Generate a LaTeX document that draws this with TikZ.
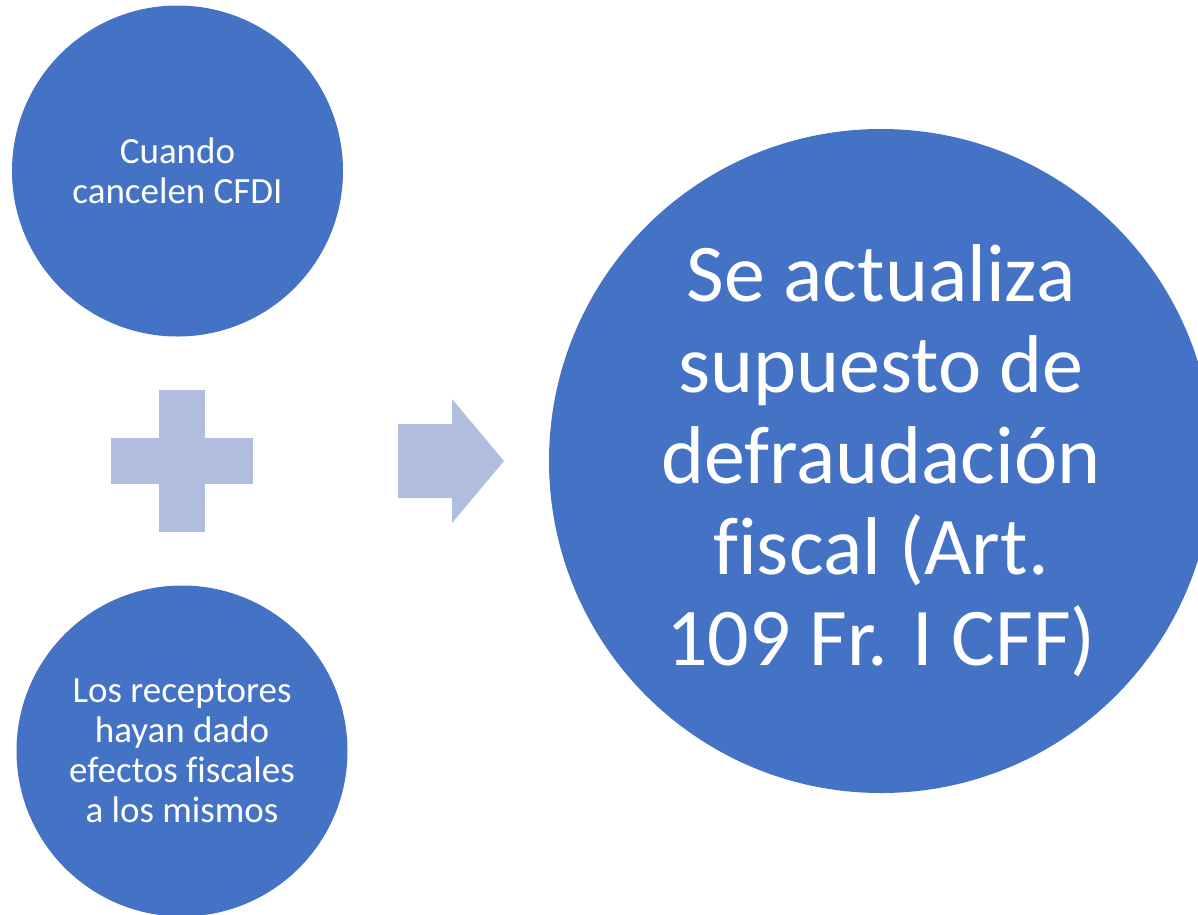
\documentclass[tikz,border=0pt]{standalone}
\usepackage{fontspec}
\setmainfont{Carlito}[Ligatures=NoCommon]
\definecolor{azul}{HTML}{4472C4}
\definecolor{azulclaro}{HTML}{B0BDDE}
\tikzset{
	circulo/.style={circle, fill=azul, text=white, inner sep=0pt, align=center},
	chico/.style={circulo, minimum size=331pt, font=\fontsize{37}{40}\selectfont},
	grande/.style={circulo, minimum size=664pt, font=\fontsize{82}{91}\selectfont},
	signo/.style={fill=azulclaro},
}
\begin{document}
\begin{tikzpicture}[x=1pt, y=-1pt]
		% marco
		\useasboundingbox (0,0) rectangle (1198,914);
		\clip (0,0) rectangle (1198,914);
		
		% circulos de las condiciones
		\node[chico] (cancelan) at (177.5,171) {Cuando\\cancelen CFDI};
		\node[chico] (receptores) at (182,751) {Los receptores\\hayan dado\\efectos fiscales\\a los mismos};
		
		% circulo del resultado
		\node[grande] (supuesto) at (881,461) {Se actualiza\\supuesto de\\defraudación\\fiscal (Art.\\109 Fr. I CFF)};
		
		% signo mas
		\fill[signo] (159,390) rectangle (205,532);
		\fill[signo] (111,438) rectangle (253,484);
		
		% flecha
		\fill[signo] (398,424) -- (452,424) -- (452,399) -- (504,461)
			-- (452,523) -- (452,498) -- (398,498) -- cycle;
	\end{tikzpicture}
\end{document}
